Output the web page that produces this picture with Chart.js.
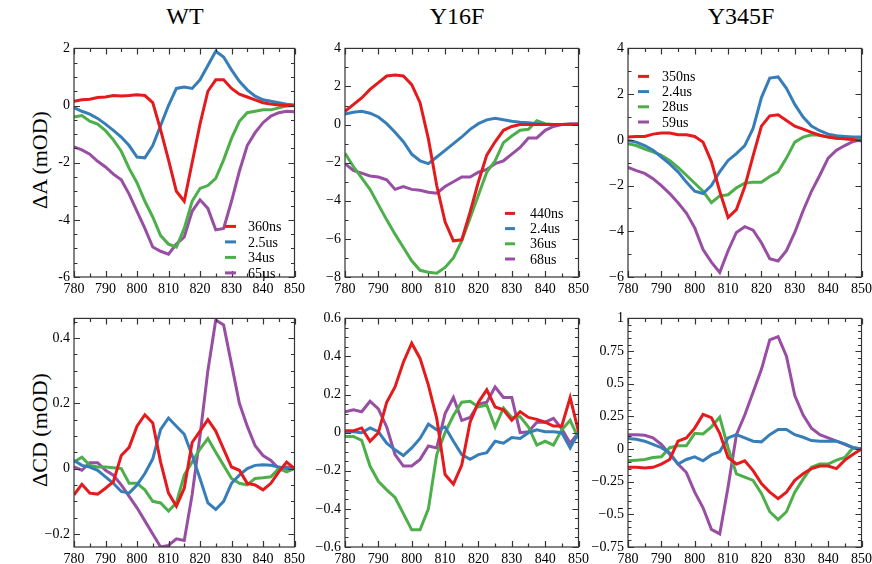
<!DOCTYPE html>
<html lang="en">
<head>
<meta charset="UTF-8">
<title>WT / Y16F / Y345F difference spectra</title>
<script src="https://cdn.jsdelivr.net/npm/chart.js"></script>
<style>
  body { margin: 0; width: 872px; height: 564px; overflow: hidden; background: #fff; font-family: "Liberation Serif", serif; color: #000; }
  .panel { position: absolute; }
  .title { position: absolute; top: 3px; font-size: 24px; transform: translateX(-50%); white-space: nowrap; }
  .ylab { position: absolute; font-size: 22px; transform: translate(-50%, -50%) rotate(-90deg); white-space: nowrap; }
</style>
</head>
<body>
<div class="title" style="left:185px">WT</div>
<div class="title" style="left:457px">Y16F</div>
<div class="title" style="left:741px">Y345F</div>
<div class="ylab" style="left:40px; top:160px">ΔA (mOD)</div>
<div class="ylab" style="left:40px; top:430px">ΔCD (mOD)</div>

<div class="panel" id="p1"><canvas id="c1"></canvas></div>
<div class="panel" id="p2"><canvas id="c2"></canvas></div>
<div class="panel" id="p3"><canvas id="c3"></canvas></div>
<div class="panel" id="p4"><canvas id="c4"></canvas></div>
<div class="panel" id="p5"><canvas id="c5"></canvas></div>
<div class="panel" id="p6"><canvas id="c6"></canvas></div>

<script>
// wavelength (nm)
const wavelength = [780, 782.5, 785, 787.5, 790, 792.5, 795, 797.5, 800, 802.5, 805, 807.5, 810, 812.5, 815,
                    817.5, 820, 822.5, 825, 827.5, 830, 832.5, 835, 837.5, 840, 842.5, 845, 847.5, 850];

// legend labels
const wtLabels = ['360ns', '2.5us', '34us', '65\u00b5s'];
const y16Labels = ['440ns', '2.4us', '36us', '68us'];
const y345Labels = ['350ns', '2.4us', '28us', '59us'];

// WT, delta A
const wtA_360ns = [0.15, 0.2, 0.22, 0.28, 0.3, 0.35, 0.33, 0.35, 0.38, 0.35, 0.1, -0.85, -1.9, -3.0, -3.35, -2.0, -0.65, 0.5, 0.9, 0.9, 0.6, 0.4, 0.3, 0.2, 0.1, 0.05, 0.02, 0, 0];
const wtA_2_5us = [-0.07, -0.2, -0.3, -0.45, -0.65, -0.87, -1.1, -1.4, -1.8, -1.83, -1.4, -0.7, 0, 0.6, 0.65, 0.6, 0.9, 1.4, 1.9, 1.7, 1.25, 0.85, 0.55, 0.33, 0.2, 0.15, 0.1, 0.05, 0.02];
const wtA_34us = [-0.4, -0.35, -0.55, -0.65, -0.88, -1.2, -1.6, -2.2, -2.7, -3.35, -3.9, -4.55, -4.85, -4.95, -4.3, -3.35, -2.9, -2.8, -2.55, -1.9, -1.15, -0.55, -0.25, -0.2, -0.15, -0.15, -0.08, -0.02, 0];
const wtA_65us = [-1.45, -1.55, -1.7, -1.95, -2.15, -2.4, -2.6, -3.1, -3.7, -4.3, -4.95, -5.1, -5.2, -4.85, -4.6, -3.7, -3.3, -3.6, -4.35, -4.3, -3.35, -2.3, -1.4, -0.95, -0.6, -0.37, -0.25, -0.2, -0.22];

// Y16F, delta A
const y16A_440ns = [0.7, 1.05, 1.4, 1.85, 2.2, 2.55, 2.6, 2.55, 2.1, 1.15, -0.75, -3.2, -5.1, -6.1, -6.05, -4.6, -3.0, -1.6, -0.9, -0.3, -0.1, 0, 0, 0, 0, 0, 0, 0, 0];
const y16A_2_4us = [0.55, 0.65, 0.7, 0.6, 0.4, 0.05, -0.4, -0.9, -1.55, -1.9, -2.05, -1.7, -1.35, -1.0, -0.65, -0.25, 0.05, 0.25, 0.33, 0.25, 0.18, 0.12, 0.1, 0.05, 0, 0, 0, 0, 0];
const y16A_36us = [-1.5, -2.2, -2.8, -3.4, -4.2, -5.0, -5.75, -6.45, -7.15, -7.65, -7.75, -7.8, -7.5, -7.0, -6.1, -4.9, -3.7, -2.5, -1.9, -0.95, -0.6, -0.3, -0.25, 0.2, 0.05, 0, 0, 0, 0];
const y16A_68us = [-2.05, -2.4, -2.55, -2.7, -2.75, -2.9, -3.4, -3.25, -3.4, -3.45, -3.55, -3.6, -3.25, -3.0, -2.75, -2.75, -2.5, -2.35, -2.05, -1.9, -1.55, -1.2, -0.7, -0.7, -0.3, -0.1, 0, 0.05, 0.05];

// Y345F, delta A
const y345A_350ns = [0.12, 0.15, 0.15, 0.25, 0.3, 0.3, 0.22, 0.22, 0.15, -0.1, -0.95, -2.25, -3.4, -3.05, -2.05, -0.7, 0.6, 1.05, 1.1, 0.85, 0.6, 0.47, 0.33, 0.2, 0.12, 0.07, 0.05, 0.02, -0.05];
const y345A_2_4us = [-0.03, -0.1, -0.25, -0.45, -0.75, -1.05, -1.4, -1.85, -2.25, -2.35, -2.0, -1.4, -0.9, -0.6, -0.25, 0.5, 1.85, 2.7, 2.75, 2.25, 1.55, 1.0, 0.6, 0.4, 0.25, 0.18, 0.15, 0.12, 0.12];
const y345A_28us = [-0.17, -0.25, -0.4, -0.53, -0.68, -0.9, -1.2, -1.55, -1.9, -2.25, -2.75, -2.45, -2.4, -2.1, -1.9, -1.85, -1.85, -1.6, -1.4, -0.8, -0.1, 0.12, 0.22, 0.2, 0.12, 0.07, 0.05, 0.02, 0];
const y345A_59us = [-1.2, -1.35, -1.47, -1.7, -2.0, -2.35, -2.75, -3.2, -3.85, -4.8, -5.35, -5.8, -4.85, -4.05, -3.8, -3.95, -4.5, -5.2, -5.3, -4.85, -4.05, -3.1, -2.25, -1.55, -0.8, -0.45, -0.25, -0.07, 0];

// WT, delta CD
const wtCD_360ns = [-0.08, -0.048, -0.075, -0.078, -0.06, -0.04, 0.04, 0.065, 0.13, 0.165, 0.14, 0.02, -0.075, -0.115, -0.06, 0.08, 0.115, 0.15, 0.115, 0.06, 0.005, -0.005, -0.045, -0.05, -0.065, -0.045, -0.01, 0.02, 0];
const wtCD_2_5us = [0.025, 0.01, 0.005, -0.005, -0.025, -0.045, -0.07, -0.075, -0.05, -0.015, 0.03, 0.12, 0.155, 0.13, 0.105, 0.04, -0.03, -0.105, -0.125, -0.1, -0.045, -0.02, 0, 0.01, 0.012, 0.01, 0.005, 0, 0];
const wtCD_34us = [0.02, 0.035, 0.01, 0.005, 0.005, 0.003, 0, -0.045, -0.045, -0.065, -0.1, -0.105, -0.13, -0.105, -0.02, 0.02, 0.06, 0.092, 0.05, 0.01, -0.03, -0.045, -0.05, -0.03, -0.028, -0.025, 0, -0.01, 0];
const wtCD_65us = [0.005, -0.005, 0.018, 0.018, -0.005, -0.02, -0.05, -0.085, -0.12, -0.16, -0.2, -0.24, -0.235, -0.215, -0.22, -0.08, 0.1, 0.3, 0.455, 0.44, 0.32, 0.2, 0.13, 0.07, 0.04, 0.025, 0, 0.005, 0];

// Y16F, delta CD
const y16CD_440ns = [0.01, 0.01, 0.025, -0.045, 0, 0.16, 0.24, 0.37, 0.47, 0.39, 0.25, 0.075, -0.22, -0.27, -0.17, 0.055, 0.16, 0.225, 0.135, 0.12, 0.065, 0.11, 0.08, 0.07, 0.055, 0.035, 0.035, 0.185, 0.005];
const y16CD_2_4us = [0.005, 0.005, 0, 0.025, 0.005, -0.055, -0.09, -0.12, -0.08, -0.03, 0.045, 0.015, 0.03, -0.045, -0.115, -0.14, -0.115, -0.105, -0.045, -0.055, -0.025, -0.03, 0, 0.015, 0.005, 0.005, 0, -0.08, 0];
const y16CD_36us = [-0.02, -0.02, -0.04, -0.175, -0.255, -0.3, -0.34, -0.425, -0.51, -0.51, -0.4, -0.115, 0, 0.09, 0.16, 0.165, 0.135, 0.145, 0.03, 0.13, 0.08, 0.085, 0.03, -0.065, -0.045, -0.065, 0.015, 0.065, -0.03];
const y16CD_68us = [0.11, 0.12, 0.11, 0.165, 0.125, 0.03, -0.115, -0.175, -0.175, -0.14, -0.07, -0.08, 0.1, 0.185, 0.065, 0.08, 0.15, 0.16, 0.24, 0.185, 0.185, 0, 0.005, 0.055, 0.055, 0.075, 0.02, -0.055, 0];

// Y345F, delta CD
const y345CD_350ns = [-0.14, -0.14, -0.145, -0.14, -0.115, -0.08, 0.06, 0.085, 0.16, 0.265, 0.24, 0.12, -0.065, -0.115, -0.09, -0.165, -0.265, -0.33, -0.38, -0.33, -0.24, -0.19, -0.15, -0.13, -0.13, -0.15, -0.085, -0.04, 0];
const y345CD_2_4us = [0.08, 0.075, 0.06, 0.035, 0.01, -0.03, -0.115, -0.08, -0.06, -0.09, -0.045, -0.02, 0.085, 0.11, 0.085, 0.06, 0.055, 0.11, 0.15, 0.15, 0.11, 0.09, 0.065, 0.06, 0.06, 0.06, 0.04, 0.01, 0];
const y345CD_28us = [-0.09, -0.085, -0.08, -0.065, -0.06, 0.01, 0.025, 0.025, 0.12, 0.115, 0.17, 0.245, 0.01, -0.19, -0.215, -0.24, -0.34, -0.48, -0.54, -0.48, -0.33, -0.23, -0.14, -0.115, -0.115, -0.085, -0.065, 0.01, 0];
const y345CD_59us = [0.11, 0.11, 0.105, 0.085, 0.035, -0.04, -0.115, -0.18, -0.33, -0.45, -0.615, -0.65, -0.29, 0.11, 0.26, 0.435, 0.61, 0.835, 0.86, 0.71, 0.41, 0.26, 0.16, 0.11, 0.085, 0.06, 0.035, 0.01, 0];

const colors = ['#e41a1c', '#377eb8', '#4daf4a', '#984ea3'];
const FONT = '"Liberation Serif", serif';

// space around the plot box inside each canvas
const PAD_L = 50, PAD_R = 14, PAD_T = 8, PAD_B = 26;

// draws the box and inward ticks on all four sides (xmgrace style)
const frameTicks = {
  id: 'frameTicks',
  afterDraw(chart, args, opts) {
    const ctx = chart.ctx, ca = chart.chartArea;
    const xs = chart.scales.x, ys = chart.scales.y;
    ctx.save();
    ctx.strokeStyle = '#333';
    ctx.lineWidth = 1.2;
    ctx.beginPath();
    function marks(scale, minor, major, vertical) {
      const start = Math.ceil(scale.min / minor - 1e-6);
      const end = Math.floor(scale.max / minor + 1e-6);
      for (let i = start; i <= end; i++) {
        const v = i * minor;
        const r = v / major;
        const len = Math.abs(r - Math.round(r)) < 1e-6 ? 6 : 3.5;
        const p = Math.round(scale.getPixelForValue(v)) + 0.5;
        if (vertical) {
          ctx.moveTo(p, ca.bottom); ctx.lineTo(p, ca.bottom - len);
          ctx.moveTo(p, ca.top); ctx.lineTo(p, ca.top + len);
        } else {
          ctx.moveTo(ca.left, p); ctx.lineTo(ca.left + len, p);
          ctx.moveTo(ca.right, p); ctx.lineTo(ca.right - len, p);
        }
      }
    }
    marks(xs, 5, 10, true);
    marks(ys, opts.yMinor, opts.yMajor, false);
    ctx.stroke();
    ctx.strokeRect(ca.left, ca.top, ca.width, ca.height);
    ctx.restore();
  }
};

// small legend placed inside the plot box
const inLegend = {
  id: 'inLegend',
  afterDraw(chart, args, opts) {
    if (!opts.show) return;
    const ctx = chart.ctx, ca = chart.chartArea;
    ctx.save();
    ctx.font = '14px ' + FONT;
    ctx.textBaseline = 'middle';
    chart.data.datasets.forEach((ds, i) => {
      const y = ca.top + opts.y + i * opts.dy;
      ctx.strokeStyle = ds.borderColor;
      ctx.lineWidth = 3;
      ctx.beginPath();
      ctx.moveTo(ca.left + opts.x, y);
      ctx.lineTo(ca.left + opts.x + opts.len, y);
      ctx.stroke();
      ctx.fillStyle = '#000';
      ctx.fillText(ds.label, ca.left + opts.tx, y + 1);
    });
    ctx.restore();
  }
};

function fmt(v) {
  const s = String(parseFloat(Math.abs(v).toFixed(3)));
  return v < -1e-9 ? '\u2212' + s : s;
}

function makePanel(n, box, y, seriesList, labels, legend) {
  const wrap = document.getElementById('p' + n);
  const canvas = document.getElementById('c' + n);
  const w = box.w + PAD_L + PAD_R, h = box.h + PAD_T + PAD_B;
  wrap.style.left = (box.left - PAD_L) + 'px';
  wrap.style.top = (box.top - PAD_T) + 'px';
  canvas.width = w; canvas.height = h;
  canvas.style.width = w + 'px'; canvas.style.height = h + 'px';

  new Chart(canvas, {
    type: 'line',
    data: {
      datasets: seriesList.map((vals, i) => ({
        label: labels[i],
        data: vals.map((v, k) => ({ x: wavelength[k], y: v })),
        borderColor: colors[i],
        borderWidth: 3,
        pointRadius: 0,
        tension: 0,
        fill: false
      }))
    },
    options: {
      responsive: false,
      animation: false,
      layout: { padding: { left: 0, top: PAD_T, right: PAD_R, bottom: 0 } },
      plugins: {
        legend: { display: false },
        title: { display: false },
        tooltip: { enabled: false },
        frameTicks: { yMinor: y.minor, yMajor: y.step },
        inLegend: legend || { show: false }
      },
      scales: {
        x: {
          type: 'linear', min: 780, max: 850,
          grid: { display: false, drawTicks: false },
          border: { display: false },
          ticks: { stepSize: 10, autoSkip: false, maxRotation: 0, padding: 4, color: '#000',
                   font: { family: FONT, size: 14 }, callback: v => String(v) },
          afterFit(s) { s.height = PAD_B; }
        },
        y: {
          type: 'linear', min: y.min, max: y.max,
          grid: { display: false, drawTicks: false },
          border: { display: false },
          ticks: { stepSize: y.step, includeBounds: false, autoSkip: false, padding: 4, color: '#000',
                   font: { family: FONT, size: 14 }, callback: y.fmt || fmt },
          afterFit(s) { s.width = PAD_L; }
        }
      }
    },
    plugins: [frameTicks, inLegend]
  });
}

const top1 = 44, top2 = 314, boxH = 233;

makePanel(1, { left: 74, top: top1, w: 221, h: boxH },
  { min: -6, max: 2, step: 2, minor: 0.5, fmt: v => String(v) },
  [wtA_360ns, wtA_2_5us, wtA_34us, wtA_65us], wtLabels,
  { show: true, x: 151, len: 11, tx: 174, y: 178, dy: 15.5 });

makePanel(2, { left: 345, top: top1, w: 234, h: boxH },
  { min: -8, max: 4, step: 2, minor: 1 },
  [y16A_440ns, y16A_2_4us, y16A_36us, y16A_68us], y16Labels,
  { show: true, x: 160, len: 10, tx: 185, y: 165, dy: 15.2 });

makePanel(3, { left: 628, top: top1, w: 234, h: boxH },
  { min: -6, max: 4, step: 2, minor: 1 },
  [y345A_350ns, y345A_2_4us, y345A_28us, y345A_59us], y345Labels,
  { show: true, x: 10, len: 11, tx: 34, y: 28, dy: 15.2 });

makePanel(4, { left: 74, top: top2, w: 221, h: boxH },
  { min: -0.24, max: 0.46, step: 0.2, minor: 0.05 },
  [wtCD_360ns, wtCD_2_5us, wtCD_34us, wtCD_65us], wtLabels, null);

makePanel(5, { left: 345, top: top2, w: 234, h: boxH },
  { min: -0.6, max: 0.6, step: 0.2, minor: 0.05 },
  [y16CD_440ns, y16CD_2_4us, y16CD_36us, y16CD_68us], y16Labels, null);

makePanel(6, { left: 628, top: top2, w: 234, h: boxH },
  { min: -0.75, max: 1, step: 0.25, minor: 0.05 },
  [y345CD_350ns, y345CD_2_4us, y345CD_28us, y345CD_59us], y345Labels, null);
</script>
</body>
</html>
